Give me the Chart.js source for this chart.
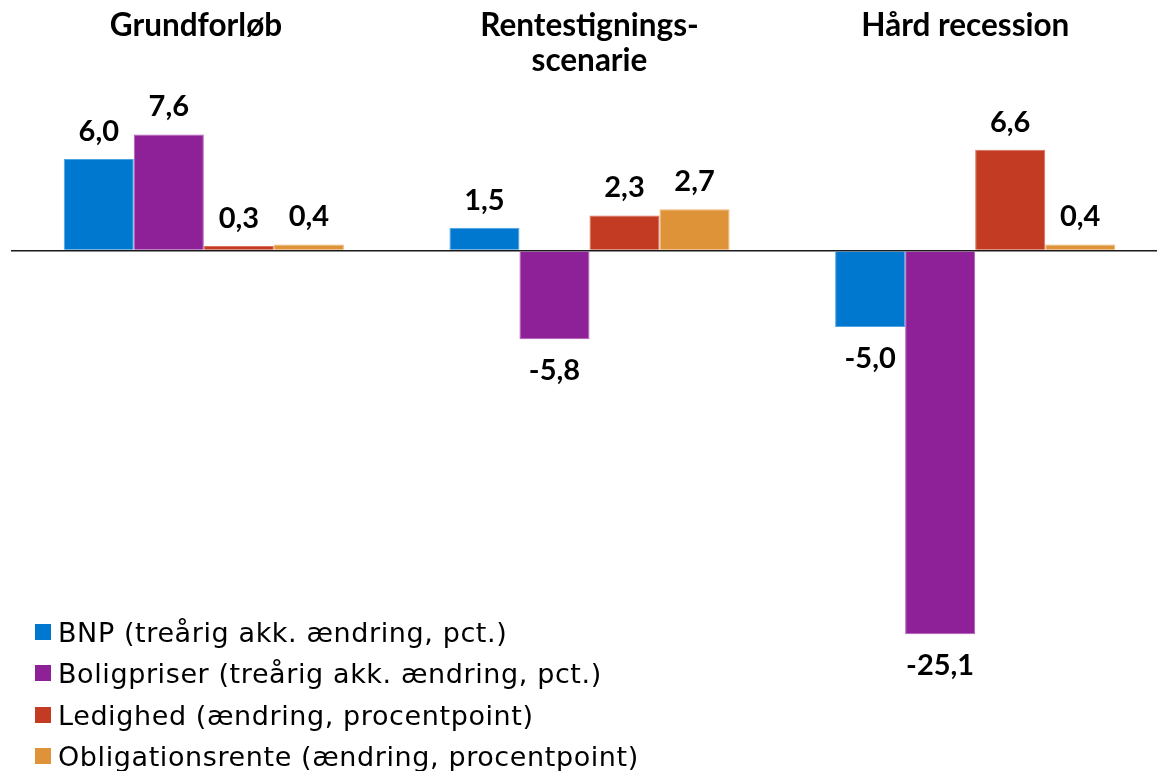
<!DOCTYPE html>
<html>
<head>
<meta charset="utf-8">
<script src="https://cdn.jsdelivr.net/npm/chart.js@4/dist/chart.umd.min.js"></script>
<style>
  html, body { margin: 0; padding: 0; background: #ffffff; overflow: hidden; }
  #wrap { width: 1168px; height: 771px; }
</style>
</head>
<body>
<div id="wrap"><canvas id="c" width="1168" height="771"></canvas></div>
<script>
const categories = [["Grundforløb\u2002"], ["Rentestignings-", "scenarie"], ["Hård recession\u2002\u2009"]];
const seriesNames = [
  "BNP (treårig akk. ændring, pct.)",
  "Boligpriser (treårig akk. ændring, pct.)",
  "Ledighed (ændring, procentpoint)",
  "Obligationsrente (ændring, procentpoint)"
];
const bnp = [6.0, 1.5, -5.0];
const boligpriser = [7.6, -5.8, -25.1];
const ledighed = [0.3, 2.3, 6.6];
const obligationsrente = [0.4, 2.7, 0.4];
const seriesColors = ["#0078D0", "#8E2197", "#C23B22", "#DF9339"];
const seriesBorders = ["#4FA3E2", "#B05BB7", "#DA6E57", "#EDB370"];

const FONT = "Lato, 'Open Sans', sans-serif";
const LEGEND_FONT = "'DejaVu Sans', Verdana, sans-serif";

const valueLabels = {
  id: 'valueLabels',
  afterDatasetsDraw(chart) {
    const ctx = chart.ctx;
    ctx.save();
    ctx.font = "bold 29px " + FONT;
    ctx.fillStyle = "#000000";
    ctx.textAlign = "center";
    ctx.textBaseline = "alphabetic";
    chart.data.datasets.forEach((ds, i) => {
      const meta = chart.getDatasetMeta(i);
      meta.data.forEach((el, j) => {
        const v = ds.data[j];
        const txt = v.toFixed(1).replace('.', ',');
        if (v >= 0) {
          ctx.fillText(txt, el.x, el.y - 18);
        } else {
          ctx.fillText(txt, el.x, el.y + 41);
        }
      });
    });
    ctx.restore();
  }
};

const customLegend = {
  id: 'customLegend',
  afterDraw(chart) {
    const ctx = chart.ctx;
    ctx.save();
    ctx.font = "27px " + LEGEND_FONT;
    try { ctx.letterSpacing = "0.6px"; } catch (e) {}
    ctx.textAlign = "left";
    ctx.textBaseline = "alphabetic";
    const rows = [632, 673, 715, 756];
    chart.data.datasets.forEach((ds, i) => {
      const cy = rows[i];
      ctx.fillStyle = ds.backgroundColor;
      ctx.fillRect(35, cy - 8, 16, 16);
      ctx.fillStyle = "#000000";
      ctx.fillText(ds.label, 58, cy + 10);
    });
    ctx.restore();
  }
};

const allSeries = [bnp, boligpriser, ledighed, obligationsrente];

new Chart(document.getElementById('c'), {
  type: 'bar',
  data: {
    labels: categories,
    datasets: allSeries.map((d, i) => ({
      label: seriesNames[i],
      data: d,
      backgroundColor: seriesColors[i],
      borderColor: seriesBorders[i],
      borderWidth: 1,
      categoryPercentage: 0.7263,
      barPercentage: 1.0
    }))
  },
  options: {
    responsive: false,
    animation: false,
    layout: { padding: { top: -10.5, left: 11, right: 0, bottom: 62 } },
    plugins: {
      legend: { display: false },
      tooltip: { enabled: false },
      title: { display: false }
    },
    scales: {
      x: {
        position: 'top',
        grid: { display: false, drawTicks: false },
        border: { display: false },
        ticks: {
          color: '#000000',
          font: { family: FONT, size: 31.5, weight: 'bold', lineHeight: 1.1 },
          crossAlign: 'far',
          padding: 19.5,
          maxRotation: 0,
          autoSkip: false
        }
      },
      y: {
        min: -30,
        max: 10,
        afterFit(scale) { scale.width = 0; },
        ticks: { display: false, stepSize: 5 },
        border: { display: false },
        grid: {
          drawTicks: false,
          lineWidth: 1.6,
          color: (c) => (c.tick && c.tick.value === 0) ? '#1a1a1a' : 'rgba(0,0,0,0)'
        }
      }
    }
  },
  plugins: [valueLabels, customLegend]
});
</script>
</body>
</html>
